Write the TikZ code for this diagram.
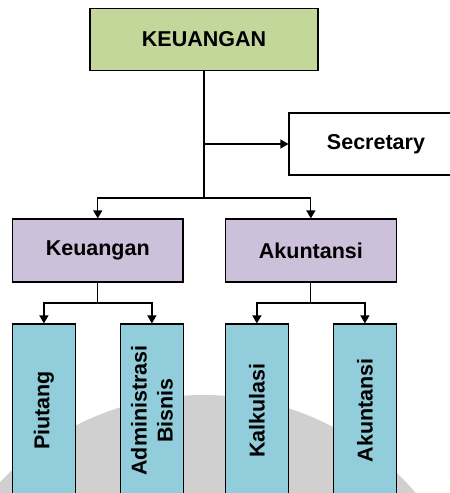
\documentclass[tikz,border=0pt]{standalone}
\usepackage{fontspec}
\setmainfont{Liberation Sans}
\usetikzlibrary{arrows.meta}
\definecolor{headgreen}{HTML}{C4D79B}
\definecolor{deptpurple}{HTML}{CCC0DA}
\definecolor{unitblue}{HTML}{92CDDC}
\definecolor{markgrey}{HTML}{D0D0D0}
\tikzset{
  box/.style={draw=black, line width=1.2pt, inner sep=0pt, align=center,
    font=\fontsize{21.5}{26}\selectfont\bfseries},
  headbox/.style={box, fill=headgreen, minimum width=228pt, minimum height=62pt},
  sidebox/.style={box, fill=white, minimum width=174pt, minimum height=62pt},
  deptbox/.style={box, fill=deptpurple, minimum width=170.5pt, minimum height=63pt},
  unitbox/.style={box, fill=unitblue, rotate=90, minimum width=173pt, minimum height=62.7pt},
  link/.style={line width=1.2pt, draw=black},
  arrowlink/.style={link, -{Triangle[width=9pt,length=8pt]}}
}
\begin{document}
\begin{tikzpicture}[x=1pt,y=-1pt]
\useasboundingbox (0,0) rectangle (450,493);
\clip (0,0) rectangle (450,493);
\fill[white] (0,0) rectangle (450,493);
% faint round mark in the background
\fill[markgrey] (203,675) circle (280);

% boxes
\node[headbox] (top) at (204,39.5) {KEUANGAN};
\node[sidebox] (sec) at (376,144) {Secretary};
\node[deptbox] (keu) at (97.75,250.5) {Keuangan};
\node[deptbox] (aku) at (310.85,250.5) {Akuntansi};
\node[unitbox] (piu) at (43.9,410.5) {Piutang};
\node[unitbox] (adm) at (151.9,410.5) {Administrasi\\Bisnis};
\node[unitbox] (kal) at (256.9,410.5) {Kalkulasi};
\node[unitbox] (akt) at (364.9,410.5) {Akuntansi};

% junction points
\coordinate (j1) at (204,198);
\coordinate (j2) at (97.75,303);
\coordinate (j3) at (310.85,303);

% connectors
\draw[link] (top.south) -- (j1);
\draw[arrowlink] (top.south |- sec.west) -- (sec.west);
\draw[arrowlink] (j1) -| (keu.north);
\draw[arrowlink] (j1) -| (aku.north);
\draw[link] (keu.south) -- (j2);
\draw[arrowlink] (j2) -| (piu.east);
\draw[arrowlink] (j2) -| (adm.east);
\draw[link] (aku.south) -- (j3);
\draw[arrowlink] (j3) -| (kal.east);
\draw[arrowlink] (j3) -| (akt.east);
\end{tikzpicture}
\end{document}
